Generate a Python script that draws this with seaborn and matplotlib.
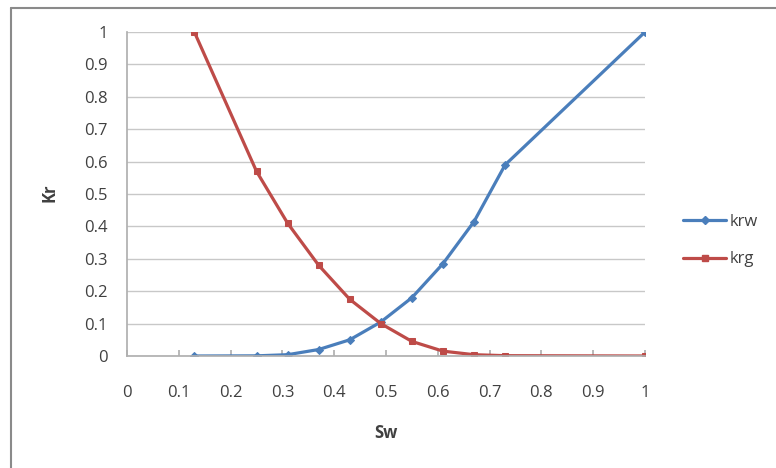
import matplotlib
matplotlib.use("Agg")
import matplotlib.pyplot as plt
import seaborn as sns
from matplotlib.lines import Line2D

sw = [0.13, 0.25, 0.31, 0.37, 0.43, 0.49, 0.55, 0.61, 0.67, 0.73, 1.0]
krw = [0.0, 0.0005, 0.004, 0.02, 0.05, 0.105, 0.18, 0.285, 0.415, 0.59, 1.0]
krg = [1.0, 0.57, 0.41, 0.28, 0.175, 0.1, 0.045, 0.015, 0.004, 0.001, 0.0]

blue = "#4A7EBB"
red = "#BE4B48"

sns.set_theme(style="white")
plt.rcParams["font.family"] = ["Open Sans", "DejaVu Sans"]

fig = plt.figure(figsize=(7.76, 4.68), dpi=100)
ax = fig.add_axes([127 / 776, 1 - 356 / 468, 518 / 776, 324 / 468])

sns.lineplot(x=sw, y=krw, ax=ax, color=blue, linewidth=2.3, marker="D",
             markersize=3.8, markeredgecolor=blue, label="krw", legend=False)
sns.lineplot(x=sw, y=krg, ax=ax, color=red, linewidth=2.3, marker="s",
             markersize=4.8, markeredgecolor=red, label="krg", legend=False)

ticks = [i / 10 for i in range(11)]
tick_labels = ["0", "0.1", "0.2", "0.3", "0.4", "0.5", "0.6", "0.7", "0.8", "0.9", "1"]
ax.set_xlim(0, 1)
ax.set_ylim(0, 1)
ax.set_xticks(ticks)
ax.set_yticks(ticks)
ax.set_xticklabels(tick_labels)
ax.set_yticklabels(tick_labels)
ax.yaxis.grid(True, color="#c8c8c8", linewidth=1)
ax.xaxis.grid(False)
for s in ["top", "right"]:
    ax.spines[s].set_visible(False)
ax.spines["left"].set_color("#b0b0b0")
ax.spines["bottom"].set_color("#b0b0b0")
ax.tick_params(axis="x", direction="in", length=4, color="#b0b0b0", bottom=True,
               pad=21, labelsize=12, labelcolor="#404040")
ax.tick_params(axis="y", length=0, pad=14, labelsize=12, labelcolor="#404040")
ax.set_axisbelow(True)

ax.set_xlabel("Sw", fontsize=12, fontweight="bold", color="#404040")
ax.set_ylabel("Kr", fontsize=12, fontweight="bold", color="#404040")
ax.xaxis.set_label_coords((386 - 127) / 518, (356 - 433) / 324)
ax.yaxis.set_label_coords((49 - 127) / 518, (356 - 193) / 324)
ax.xaxis.label.set_verticalalignment("center")
ax.yaxis.label.set_verticalalignment("center")

handles = [
    Line2D([], [], color=blue, linewidth=2.3, marker="D", markersize=3.8),
    Line2D([], [], color=red, linewidth=2.3, marker="s", markersize=4.8),
]
fig.legend(handles, ["krw", "krg"], loc="center left",
           bbox_to_anchor=(683 / 776, 1 - 240.5 / 468), frameon=False,
           borderpad=0, borderaxespad=0,
           labelspacing=1.3, handlelength=2.6, handletextpad=0.2,
           fontsize=12, labelcolor="#404040")

# chart frame (top and left edges visible in the crop)
fig.add_artist(Line2D([11 / 776, 1], [1 - 8 / 468, 1 - 8 / 468],
                      transform=fig.transFigure, color="#8a8a8a", linewidth=1.5))
fig.add_artist(Line2D([11 / 776, 11 / 776], [0, 1 - 8 / 468],
                      transform=fig.transFigure, color="#8a8a8a", linewidth=1.5))

fig.savefig("out.png", dpi=100)
